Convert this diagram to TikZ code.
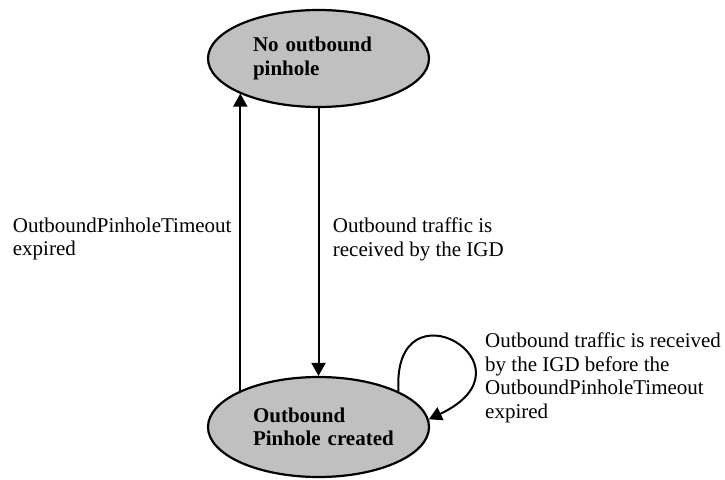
\documentclass[tikz,border=0pt]{standalone}
\usepackage{fontspec}
\setmainfont{Liberation Serif}
\usetikzlibrary{positioning, arrows.meta, shapes.geometric}

\begin{document}
\begin{tikzpicture}[x=1pt,y=-1pt,every node/.style={font=\fontsize{21}{23.5}\selectfont}]

    % Colors
    \definecolor{statefill}{RGB}{192,192,192}

    % Styles
    \tikzset{
      state/.style={ellipse, draw, line width=2.2pt, fill=statefill,
        minimum width=221pt, minimum height=97pt, inner sep=0pt,
        align=left, text width=131pt,
        font=\fontsize{21}{23.5}\selectfont\bfseries},
      note/.style={align=left, anchor=north west, inner sep=0pt},
      trans/.style={-{Triangle[length=13pt,width=14pt]}, line width=2pt}
    }

    \useasboundingbox (0,0) rectangle (725,479);

    % ======================
    % States
    % ======================
    \node[state] (nopinhole) at (318.5,58.5) {No outbound\\pinhole};
    \node[state, minimum height=100pt] (created) at (318.5,427) {Outbound\\\mbox{Pinhole created}};

    % ======================
    % Transitions
    % ======================
    % timeout (left, upwards)
    \draw[trans] (created.155) -- (created.155 |- nopinhole.204);

    % first outbound packet (middle, downwards)
    \draw[trans] (nopinhole) -- (created);

    % refresh loop on the created state
    \draw[trans] (created.24) .. controls +(-7,-114) and +(114,-54) .. (created.4);

    % ======================
    % Labels
    % ======================
    \node[note] (timeoutlbl) at (12.7,217.7) {OutboundPinholeTimeout\\expired};
    \node[note] (trafficlbl) at (332.7,217.7) {Outbound traffic is\\received by the IGD};
    \node[note] (looplbl) at (485,332.7) {Outbound traffic is received\\by the IGD before the\\OutboundPinholeTimeout\\expired};

  \end{tikzpicture}
\end{document}
